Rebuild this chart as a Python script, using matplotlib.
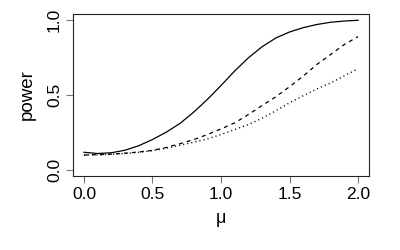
import numpy as np
import matplotlib
matplotlib.use("Agg")
import matplotlib.pyplot as plt

plt.rcParams["font.family"] = ["Liberation Sans", "DejaVu Sans"]

# mu grid and power curves
mu = [0.0, 0.1, 0.2, 0.3, 0.4, 0.5, 0.6, 0.7, 0.8, 0.9, 1.0,
      1.1, 1.2, 1.3, 1.4, 1.5, 1.6, 1.7, 1.8, 1.9, 2.0]

power_solid = [0.118, 0.110, 0.115, 0.132, 0.162, 0.203, 0.252, 0.310, 0.385, 0.470, 0.563,
               0.660, 0.748, 0.822, 0.880, 0.920, 0.949, 0.970, 0.985, 0.993, 0.998]

power_dashed = [0.100, 0.102, 0.106, 0.112, 0.120, 0.131, 0.150, 0.175, 0.202, 0.236, 0.274,
                0.314, 0.370, 0.430, 0.488, 0.555, 0.626, 0.704, 0.770, 0.837, 0.889]

power_dotted = [0.100, 0.101, 0.105, 0.110, 0.118, 0.129, 0.145, 0.165, 0.185, 0.207, 0.236,
                0.270, 0.303, 0.345, 0.395, 0.448, 0.495, 0.541, 0.580, 0.628, 0.675]

xticks = [0.0, 0.5, 1.0, 1.5, 2.0]
yticks = [0.0, 0.5, 1.0]

fig = plt.figure(figsize=(4, 2.5), dpi=100)
ax = fig.add_axes([0.1825, 0.296, 0.74, 0.648])

ax.plot(mu, power_solid, color="black", lw=0.9)
ax.plot(mu, power_dashed, color="black", lw=0.9, dashes=(3.2, 3.2))
ax.plot(mu, power_dotted, color="black", lw=1.0, dashes=(0.8, 2.2))

ax.set_xlim(-0.08, 2.08)
ax.set_ylim(-0.04, 1.04)
ax.set_xticks(xticks)
ax.set_xticklabels(["%.1f" % v for v in xticks])
ax.set_yticks(yticks)
ax.set_yticklabels(["%.1f" % v for v in yticks], rotation=90, va="center")

for s in ax.spines.values():
    s.set_linewidth(0.8)
    s.set_color("#222222")

ax.tick_params(axis="both", length=5, width=0.8, color="#777777",
               labelsize=12.5, pad=3)

ax.set_xlabel("μ", fontsize=13, labelpad=6)
ax.set_ylabel("power", fontsize=13.5, labelpad=8)

fig.savefig("out.png", dpi=100)
